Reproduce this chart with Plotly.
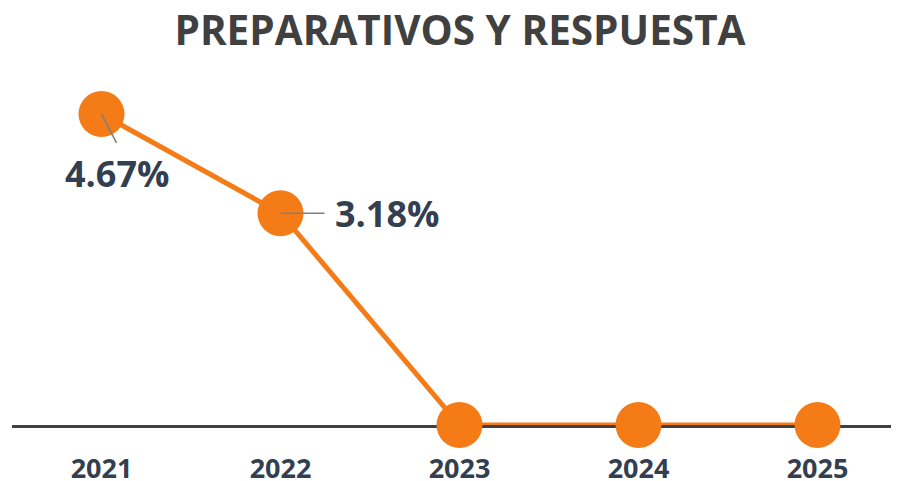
import plotly.graph_objects as go

years = ["2021", "2022", "2023", "2024", "2025"]
values = [4.67, 3.18, 0, 0, 0]
labels = ["4.67%", "3.18%", None, None, None]

ORANGE = "#F47B16"
LABEL = "#333F50"
TITLE = "#404040"
FONT = "Open Sans"

xpos = list(range(len(years)))

# page body has an 8px margin; figure is sized to the remaining viewport
W, H = 891, 473

fig = go.Figure()
fig.add_trace(go.Scatter(
    x=xpos, y=values, mode="lines+markers",
    line=dict(color=ORANGE, width=5),
    marker=dict(size=46, color=ORANGE),
    cliponaxis=False, hoverinfo="skip", showlegend=False,
))

fig.add_annotation(x=xpos[0], y=values[0], text=labels[0], showarrow=True,
                   arrowhead=0, arrowwidth=1.6, arrowcolor="#808080",
                   ax=15, ay=29, xanchor="center", yanchor="top", borderpad=5,
                   font=dict(family=FONT, size=36, color=LABEL, weight="bold"))
fig.add_annotation(x=xpos[1], y=values[1], text=labels[1], showarrow=True,
                   arrowhead=0, arrowwidth=1.6, arrowcolor="#808080",
                   ax=44, ay=0, xanchor="left", yanchor="middle", borderpad=9,
                   font=dict(family=FONT, size=36, color=LABEL, weight="bold"))

fig.update_layout(
    width=W, height=H,
    margin=dict(l=4, r=0, t=72, b=56),
    paper_bgcolor="white", plot_bgcolor="white",
    title=dict(text="PREPARATIVOS Y RESPUESTA", x=(460-8)/W, xref="container",
               xanchor="center", y=1-(31-8)/H, yref="container", yanchor="middle",
               font=dict(family=FONT, size=40.5, color=TITLE, weight="bold")),
    xaxis=dict(range=[-0.5, -0.5 + 887/179], tickvals=xpos, ticktext=years,
               showgrid=False, zeroline=False, showline=True, linecolor=TITLE,
               linewidth=3, ticks="", layer="below traces", ticklabelstandoff=18,
               tickfont=dict(family=FONT, size=27, color=LABEL, weight="bold"),
               fixedrange=True, automargin=False),
    yaxis=dict(range=[0, 345/66.6], visible=False, showgrid=False, zeroline=False,
               fixedrange=True),
)

fig.write_html("out.html")
